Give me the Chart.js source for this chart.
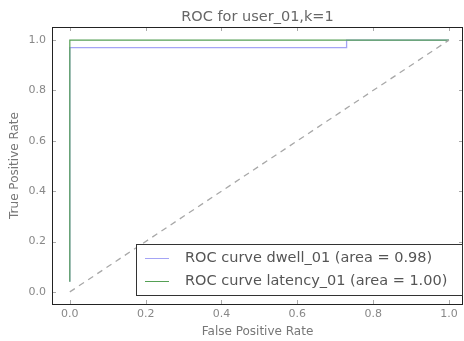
<!DOCTYPE html>
<html>
<head>
<meta charset="utf-8">
<script src="https://cdn.jsdelivr.net/npm/chart.js@4.4.1/dist/chart.umd.min.js"></script>
<style>
  html, body { margin: 0; padding: 0; background: #fff; overflow: hidden; }
  #wrap { width: 464px; height: 341px; }
</style>
</head>
<body>
<div id="wrap"><canvas id="roc" width="464" height="341"></canvas></div>
<script>
// values
const dwellFpr = [0, 0, 0.73, 0.73, 1];
const dwellTpr = [0.04, 0.97, 0.97, 1, 1];
const latencyFpr = [0, 0, 1];
const latencyTpr = [0.04, 1, 1];
const chanceFpr = [0, 1];
const chanceTpr = [0, 1];
const xTicks = [0, 0.2, 0.4, 0.6, 0.8, 1.0];
const yTicks = [0, 0.2, 0.4, 0.6, 0.8, 1.0];
const seriesLabels = ['ROC curve dwell_01 (area = 0.98)', 'ROC curve latency_01 (area = 1.00)'];
const chartTitle = 'ROC for user_01,k=1';

const toPts = (xs, ys) => xs.map((x, i) => ({ x: x, y: ys[i] }));
const FONT = 'DejaVu Sans';

// matplotlib style: black frame, ticks pointing inward on all four sides,
// title centred over the axes and legend box in the lower right
const framePlugin = {
    id: 'frame',
    afterDraw(chart) {
        const { ctx, chartArea: a, scales } = chart;
        ctx.save();
        ctx.strokeStyle = '#aaa';
        ctx.lineWidth = 1;
        ctx.beginPath();
        xTicks.forEach(v => {
            const px = Math.round(scales.x.getPixelForValue(v)) + 0.5;
            ctx.moveTo(px, a.bottom); ctx.lineTo(px, a.bottom - 4);
            ctx.moveTo(px, a.top); ctx.lineTo(px, a.top + 4);
        });
        yTicks.forEach(v => {
            const py = Math.round(scales.y.getPixelForValue(v)) + 0.5;
            ctx.moveTo(a.left, py); ctx.lineTo(a.left + 4, py);
            ctx.moveTo(a.right, py); ctx.lineTo(a.right - 4, py);
        });
        ctx.stroke();
        ctx.strokeStyle = '#222';
        ctx.strokeRect(Math.round(a.left) + 0.5, Math.round(a.top) + 0.5,
            Math.round(a.right - a.left) - 1, Math.round(a.bottom - a.top));

        ctx.fillStyle = '#666';
        ctx.font = '14.5px "' + FONT + '"';
        ctx.textAlign = 'center';
        ctx.textBaseline = 'middle';
        ctx.fillText(chartTitle, (a.left + a.right) / 2, 17);

        const bx = 136, by = 244, bw = 326, bh = 51;
        ctx.fillStyle = '#fff';
        ctx.fillRect(bx, by, bw, bh);
        ctx.strokeStyle = '#333';
        ctx.strokeRect(bx + 0.5, by + 0.5, bw, bh);
        ctx.textAlign = 'left';
        [0, 1].forEach(i => {
            const ds = chart.data.datasets[i];
            const y = by + 14 + i * 23;
            ctx.strokeStyle = ds.borderColor;
            ctx.lineWidth = 1;
            ctx.beginPath();
            ctx.moveTo(bx + 9, y + 0.5); ctx.lineTo(bx + 33, y + 0.5);
            ctx.stroke();
            ctx.fillStyle = '#555';
            ctx.fillText(ds.label, bx + 49, y);
        });
        ctx.restore();
    }
};

const config = {
    type: 'scatter',
    data: {
        datasets: [
            {
                label: seriesLabels[0],
                data: toPts(dwellFpr, dwellTpr),
                showLine: true,
                borderColor: '#a4a4f5',
                borderWidth: 1.3,
                pointRadius: 0,
                order: 3
            },
            {
                label: seriesLabels[1],
                data: toPts(latencyFpr, latencyTpr),
                showLine: true,
                borderColor: '#55a055',
                borderWidth: 1.2,
                pointRadius: 0,
                order: 2
            },
            {
                label: 'chance',
                data: toPts(chanceFpr, chanceTpr),
                showLine: true,
                borderColor: '#a8a8a8',
                borderWidth: 1.3,
                borderDash: [6, 5],
                pointRadius: 0,
                order: 1
            }
        ]
    },
    options: {
        responsive: false,
        animation: false,
        layout: { padding: { left: 0, right: 1, top: 27, bottom: 0 } },
        plugins: {
            legend: { display: false },
            tooltip: { enabled: false },
            title: { display: false }
        },
        scales: {
            x: {
                type: 'linear',
                min: -0.047,
                max: 1.037,
                afterFit: s => { s.height = 37; },
                afterBuildTicks: s => { s.ticks = xTicks.map(v => ({ value: v })); },
                grid: { display: false, drawTicks: false, tickLength: 0 },
                border: { display: false },
                ticks: {
                    color: '#888',
                    padding: 4,
                    font: { family: FONT, size: 11 },
                    callback: v => v.toFixed(1)
                },
                title: {
                    display: true,
                    text: 'False Positive Rate',
                    color: '#777',
                    font: { family: FONT, size: 12 },
                    padding: { top: 0, bottom: 2 }
                }
            },
            y: {
                type: 'linear',
                min: -0.048,
                max: 1.052,
                afterFit: s => { s.width = 52; },
                afterBuildTicks: s => { s.ticks = yTicks.map(v => ({ value: v })); },
                grid: { display: false, drawTicks: false, tickLength: 0 },
                border: { display: false },
                ticks: {
                    color: '#888',
                    padding: 6,
                    font: { family: FONT, size: 11 },
                    callback: v => v.toFixed(1)
                },
                title: {
                    display: true,
                    text: 'True Positive Rate',
                    color: '#777',
                    font: { family: FONT, size: 12 },
                    padding: { top: 8, bottom: 0 }
                }
            }
        }
    },
    plugins: [framePlugin]
};

const rocChart = new Chart(document.getElementById('roc'), config);
</script>
</body>
</html>
